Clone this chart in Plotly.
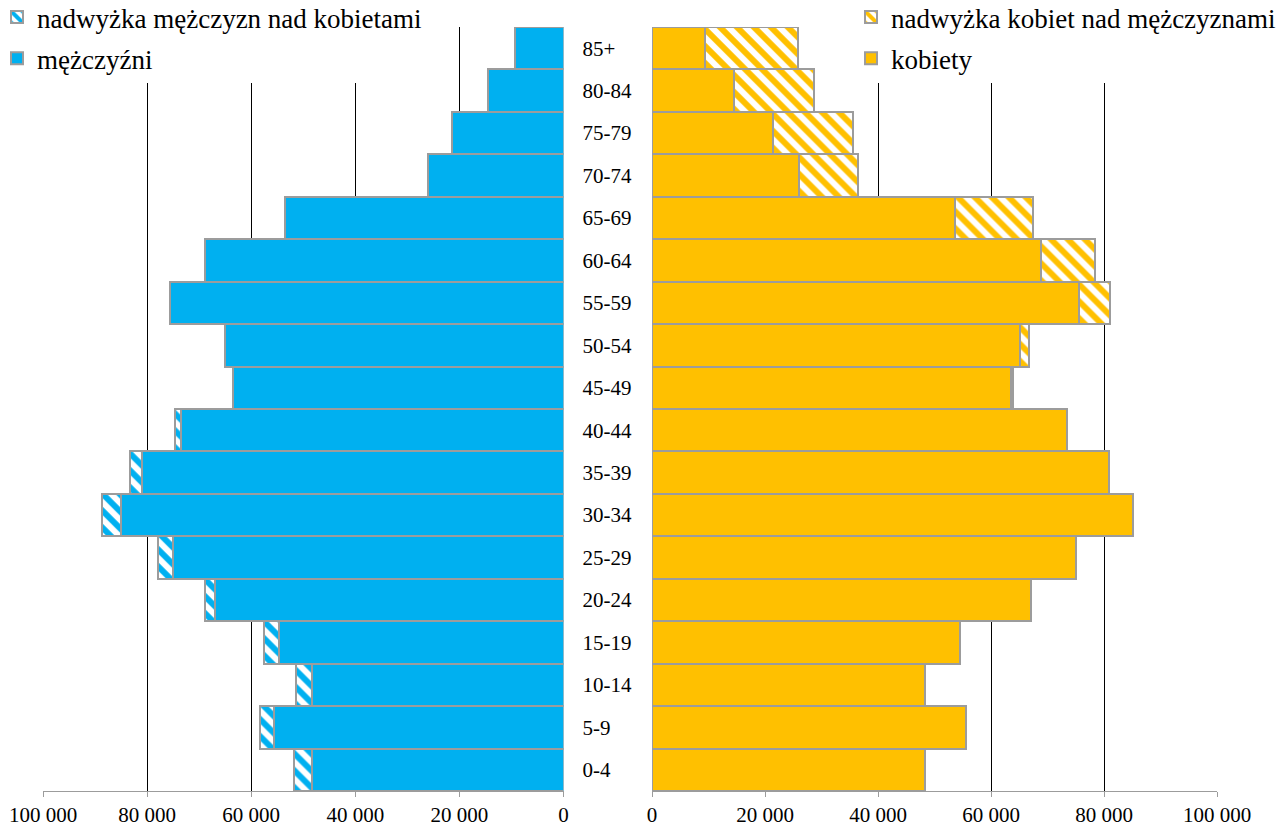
import plotly.graph_objects as go

# age groups, bottom -> top
ages = ["0-4", "5-9", "10-14", "15-19", "20-24", "25-29", "30-34", "35-39", "40-44",
        "45-49", "50-54", "55-59", "60-64", "65-69", "70-74", "75-79", "80-84", "85+"]

men = [51700, 58300, 51400, 57500, 68900, 78000, 88600, 83300, 74700,
       63500, 65100, 75600, 68800, 53600, 26000, 21400, 14500, 9300]
women = [48400, 55600, 48400, 54600, 67000, 75100, 85100, 80900, 73500,
         63900, 66800, 81100, 78400, 67500, 36400, 35600, 28700, 25800]

tick_vals = [0, 20000, 40000, 60000, 80000, 100000]

BLUE = "#00B0F0"
GOLD = "#FFC000"
EDGE = "#9c9c9c"
FONT = "Liberation Serif"
W, H = 1281, 827

# common part + surplus of the larger group
common = [min(m, w) for m, w in zip(men, women)]
men_excess = [m - w if m > w else None for m, w in zip(men, women)]
women_excess = [w - m if w > m else None for m, w in zip(men, women)]


def bar(x, name, color, xaxis, legend, rank, hatched=False):
    marker = dict(color=color, line=dict(color=EDGE, width=2))
    if hatched:
        marker = dict(color="white", line=dict(color=EDGE, width=2),
                      pattern=dict(shape="\\", fgcolor=color, bgcolor="white",
                                   fgopacity=1, size=12, solidity=0.5))
    return go.Bar(y=ages, x=x, orientation="h", name=name, marker=marker,
                  xaxis=xaxis, yaxis="y", legend=legend, legendrank=rank,
                  legendgroup=name, hoverinfo="x+y+name")


fig = go.Figure()
fig.add_trace(bar(common, "mężczyźni", BLUE, "x", "legend", 2))
fig.add_trace(bar(men_excess, "nadwyżka mężczyzn nad kobietami", BLUE, "x", "legend", 1, True))
fig.add_trace(bar(common, "kobiety", GOLD, "x2", "legend2", 2))
fig.add_trace(bar(women_excess, "nadwyżka kobiet nad mężczyznami", GOLD, "x2", "legend2", 1, True))

xcommon = dict(tickvals=tick_vals, tickformat=",d", showgrid=True, gridcolor="black",
               gridwidth=1, zeroline=False, showline=True, linecolor=EDGE, linewidth=1,
               ticks="outside", ticklen=5, tickcolor=EDGE, tickangle=0,
               tickfont=dict(family=FONT, size=21, color="black"), anchor="y")

legend_common = dict(xref="paper", yref="paper", y=1 + 34 / 764, yanchor="top",
                     xanchor="left", bgcolor="white", borderwidth=0,
                     font=dict(family=FONT, size=27, color="black"),
                     tracegroupgap=3, itemwidth=30, traceorder="grouped")

fig.update_layout(
    width=W, height=H,
    margin=dict(l=0, r=0, t=27, b=36, autoexpand=False),
    paper_bgcolor="white", plot_bgcolor="white",
    font=dict(family=FONT, color="black"),
    barmode="stack", bargap=0,
    separators=", ",
    xaxis=dict(domain=[43 / W, 563.5 / W], range=[100000, 0], **xcommon),
    xaxis2=dict(domain=[652 / W, 1217 / W], range=[0, 100000], **xcommon),
    yaxis=dict(type="category", categoryorder="array", categoryarray=ages,
               range=[-0.5, len(ages) - 0.5], anchor="x", side="right",
               showline=False, showgrid=False, ticks="", ticklabelstandoff=18,
               automargin=False,
               tickfont=dict(family=FONT, size=21, color="black")),
    legend=dict(x=-3 / W, **legend_common),
    legend2=dict(x=851 / W, **legend_common),
    showlegend=True,
)

fig.write_html("out.html", config={"displayModeBar": False},
               post_script="document.body.style.margin='0';")
